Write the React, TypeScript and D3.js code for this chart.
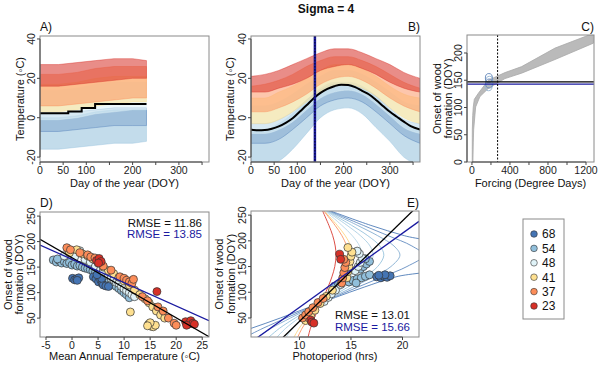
'use client';

import { useRef, useEffect } from 'react';
import * as d3 from 'd3';

// site groups (latitude) and their colours
const groupLabels = ['68', '54', '48', '41', '37', '23'];
const groupColors = ['#4575b4', '#91bfdb', '#e0f3f8', '#fee090', '#fc8d59', '#d73027'];
const bandOpacity = [0.28, 0.55, 0.6, 0.55, 0.5, 0.55];
const drawOrder = [1, 0, 2, 3, 4, 5];

const dayTicks = [0, 50, 100, 150, 200, 250, 300, 350];
const dayTickLabels = [0, 50, 100, 200, 300];
const tempTicks = [-20, 0, 20, 40];

// A) temperature envelopes of the daily series, per group
const daysA = [0, 40, 80, 120, 160, 200, 230];
const lowA = [
  [-7, -7, -6, -5, -4, -4, -4],
  [-16, -16, -15, -14, -13, -13, -12],
  [-1, -1, 0, 2, 3, 4, 4],
  [3, 3, 4, 6, 7, 8, 8],
  [6, 6, 7, 8, 9, 10, 10],
  [16, 16, 17, 18, 19, 20, 20],
];
const highA = [
  [2, 2, 3, 4, 5, 5, 5],
  [0, 0, 1, 3, 4, 4, 4],
  [14, 14, 15, 17, 18, 18, 18],
  [17, 17, 18, 20, 21, 21, 21],
  [22, 22, 23, 25, 26, 26, 26],
  [27, 27, 28, 29, 30, 30, 29],
];
const stepDaysA = [0, 61, 90, 119, 230];
const stepTempA = [2.2, 3.2, 4.9, 7.0, 7.0];

// B) seasonal temperature envelopes
const daysB = [0, 30, 60, 90, 120, 150, 180, 210, 240, 270, 300, 330, 365];
const lowB = [
  [-13, -13, -11, -6, 0, 6, 9, 10, 8, 3, -3, -9, -13],
  [-24, -24, -22, -16, -8, 0, 4, 5, 2, -5, -12, -20, -24],
  [-8, -8, -6, -2, 4, 10, 13, 14, 12, 7, 1, -5, -8],
  [-3, -3, -1, 3, 8, 13, 16, 17, 15, 11, 5, 0, -3],
  [3, 3, 5, 8, 12, 17, 20, 21, 19, 15, 10, 6, 3],
  [13, 13, 15, 17, 20, 24, 26, 27, 25, 22, 18, 15, 13],
];
const highB = [
  [-3, -3, -1, 3, 9, 14, 17, 17, 15, 11, 5, -1, -3],
  [-6, -6, -3, 2, 9, 15, 18, 18, 16, 11, 4, -3, -6],
  [6, 6, 8, 12, 17, 21, 24, 24, 22, 18, 13, 8, 6],
  [10, 10, 13, 16, 20, 24, 27, 27, 25, 21, 16, 12, 10],
  [16, 17, 19, 22, 26, 29, 31, 31, 29, 26, 22, 18, 15],
  [21, 22, 24, 27, 30, 33, 35, 35, 33, 30, 27, 23, 20],
];
const meanDaysB = [0, 15, 30, 45, 60, 75, 90, 105, 120, 135, 150, 165, 180, 195, 210, 225, 240, 255, 270, 285, 300, 315, 330, 345, 365];
const meanTempB = [-6.1, -6.4, -6.3, -5.6, -4.4, -2.6, -0.3, 3.0, 6.3, 9.8, 12.6, 14.6, 16.0, 16.8, 16.6, 15.5, 13.6, 11.8, 9.0, 6.0, 3.0, 0.5, -2.0, -4.3, -6.0];
const onsetDayB = 138;

// C) forcing vs onset, envelope of the simulated curves
const forcingLow = [10, 14, 18, 39, 84, 172, 347, 523, 874, 1277];
const doyLow = [0, 35, 59, 101, 120, 135, 153, 163, 188, 218];
const forcingHigh = [3, 4, 8, 14, 25, 67, 172, 347, 523, 874, 1277];
const doyHigh = [0, 59, 85, 101, 115, 126, 150, 164, 175, 209, 236];
const obsForcing = [175, 181, 184, 178];
const obsDoy = [139, 144, 149, 154];
const predDoyC = 147;
const obsDoyC = 143;
const forcingThreshold = 270;
const forcingTicks = [0, 200, 400, 600, 800, 1000, 1200];
const forcingTickLabels = [0, 400, 800, 1200];
const doyTicksC = [0, 50, 100, 150, 200];

// D) mean annual temperature vs onset
const pointsD = [
  [[0.1, 128], [0.5, 125], [0.9, 127], [1.3, 129], [1.0, 124], [4.1, 131], [4.6, 127], [5.1, 121], [5.5, 125], [5.8, 118], [6.0, 115], [6.5, 113], [7.0, 112], [5.7, 128], [4.8, 135]],
  [[-3.6, 164], [-3.0, 160], [-2.5, 163], [-2.0, 158], [-1.5, 161], [-1.0, 157], [-0.5, 159], [0.0, 154], [0.5, 156], [1.0, 152], [1.5, 153], [2.0, 150], [2.5, 148], [3.0, 147], [3.5, 145], [4.0, 142], [4.5, 140], [5.0, 136], [5.5, 133], [6.0, 130], [6.5, 125], [7.0, 122], [7.5, 118], [8.0, 115], [8.5, 112], [9.0, 108], [9.5, 104], [10.0, 100], [10.5, 96], [11.0, 90], [-2.8, 166]],
  [[-1.5, 172], [0.5, 170], [1.5, 182], [2.5, 165], [3.5, 160], [4.5, 152], [5.5, 146], [6.5, 138], [7.0, 133], [7.5, 128], [8.0, 125], [8.5, 120], [9.0, 118], [9.5, 112], [10.0, 108], [10.5, 104], [11.0, 100], [11.5, 96], [12.0, 92], [6.0, 142]],
  [[-0.5, 178], [0.9, 184], [2.0, 176], [3.0, 172], [4.0, 166], [5.0, 158], [6.0, 150], [7.0, 143], [8.0, 137], [9.0, 130], [10.0, 123], [11.0, 115], [12.0, 105], [13.0, 96], [14.0, 88], [14.8, 80], [15.5, 72], [16.2, 64], [17.0, 56], [17.8, 50], [11.2, 62], [14.7, 38], [15.2, 34], [15.6, 33], [16.0, 36], [15.0, 41], [14.5, 35]],
  [[-1.0, 188], [-0.3, 184], [1.5, 178], [3.0, 174], [3.6, 170], [4.4, 168], [5.0, 162], [6.0, 152], [7.5, 144], [9.2, 131], [10.0, 128], [10.5, 124], [11.0, 121], [11.5, 118], [11.8, 126], [13.5, 92], [14.5, 84], [16.5, 72], [17.5, 64], [18.5, 50], [19.6, 40], [20.0, 36]],
  [[4.7, 163], [5.2, 167], [5.6, 161], [5.1, 158], [16.3, 102], [21.8, 43], [22.3, 38], [22.8, 45], [23.2, 40], [22.0, 36], [23.5, 38]],
];
const fitD = { black: [168.3, -5.88], blue: [165.2, -4.57] };
const rmseD = ['11.86', '13.85'];
const matTicks = [-5, 0, 5, 10, 15, 20, 25];
const doyTicks = [50, 100, 150, 200, 250];

// E) photoperiod vs onset: day length (hrs) through the year at each site latitude
const photoDoy = [13, 30, 50, 70, 90, 110, 130, 150, 172, 190, 210, 230, 258];
const photoHours = [
  [2.70, 5.34, 8.15, 10.83, 13.50, 16.28, 19.37, 24, 24, 24, 20.18, 16.93, 13.03],
  [4.76, 6.47, 8.71, 11.00, 13.31, 15.66, 18.06, 20.43, 22.05, 20.91, 18.61, 16.20, 12.90],
  [5.96, 7.27, 9.14, 11.13, 13.15, 15.19, 17.17, 18.88, 19.75, 19.17, 17.59, 15.64, 12.79],
  [7.05, 8.07, 9.59, 11.27, 12.99, 14.70, 16.30, 17.59, 18.19, 17.80, 16.63, 15.07, 12.68],
  [7.84, 8.67, 9.95, 11.38, 12.86, 14.32, 15.65, 16.69, 17.15, 16.85, 15.92, 14.63, 12.60],
  [8.72, 9.36, 10.37, 11.51, 12.70, 13.87, 14.92, 15.71, 16.05, 15.83, 15.13, 14.12, 12.50],
  [9.48, 9.97, 10.74, 11.64, 12.57, 13.48, 14.28, 14.87, 15.13, 14.97, 14.44, 13.67, 12.41],
  [9.84, 10.26, 10.92, 11.69, 12.50, 13.29, 13.98, 14.49, 14.71, 14.57, 14.12, 13.46, 12.36],
  [10.84, 11.07, 11.44, 11.87, 12.33, 12.77, 13.15, 13.43, 13.55, 13.47, 13.23, 12.86, 12.25],
];
const photoColors = ['#4575b4', '#5a86bd', '#7ea9cf', '#91bfdb', '#a6cbe0', '#b5d6e6', '#fdd57e', '#fc8d59', '#d73027'];
const pointsE = [
  [[17.5, 130], [17.9, 128], [18.2, 131], [18.5, 129], [18.8, 132], [18.3, 134], [17.7, 133]],
  [[14.8, 120], [15.2, 123], [15.6, 126], [16.0, 128], [16.4, 131], [16.8, 134], [15.9, 145], [16.2, 150], [16.5, 155], [16.8, 160], [16.4, 165], [15.5, 118], [13.4, 112], [13.8, 116]],
  [[15.4, 142], [15.7, 150], [15.9, 158], [16.1, 166], [15.8, 175], [15.6, 180], [12.4, 82], [12.8, 90], [13.1, 97], [13.5, 104], [14.0, 115], [11.0, 52]],
  [[14.6, 128], [14.7, 140], [14.8, 150], [14.9, 160], [15.0, 170], [15.1, 178], [14.7, 187], [10.6, 45], [10.9, 50], [11.1, 53], [11.5, 65], [12.0, 78], [12.6, 92], [13.2, 104]],
  [[14.1, 118], [14.2, 128], [14.3, 138], [14.4, 148], [14.5, 158], [14.3, 164], [10.3, 50], [10.6, 56], [10.9, 62], [11.3, 70], [11.8, 80], [12.3, 88]],
  [[13.9, 174], [14.0, 164], [11.1, 46], [11.2, 42], [11.4, 40]],
];
const fitE = { black: [-152.3, 19.56], blue: [-73.6, 14.42] };
const rmseE = ['13.01', '15.66'];
const photoTicks = [10, 15, 20];

const BLUE = '#1a1aa0';
const FONT = '"Liberation Sans", Arial, sans-serif';

interface Box { x0: number; x1: number; y0: number; y1: number }
type Scale = d3.ScaleLinear<number, number>;
type Sel = d3.Selection<SVGSVGElement, unknown, null, undefined>;
type G = d3.Selection<SVGGElement, unknown, null, undefined>;

function plotArea(svg: Sel, id: string, b: Box) {
  svg.append('clipPath').attr('id', id).append('rect')
    .attr('x', b.x0).attr('y', b.y0).attr('width', b.x1 - b.x0).attr('height', b.y1 - b.y0);
  return svg.append('g').attr('clip-path', `url(#${id})`);
}

function frame(svg: Sel, b: Box, x: Scale, y: Scale, xt: number[], xl: number[], yt: number[], yl: number[]) {
  svg.append('rect')
    .attr('x', b.x0).attr('y', b.y0).attr('width', b.x1 - b.x0).attr('height', b.y1 - b.y0)
    .attr('fill', 'none').attr('stroke', '#8a8a8a');
  const g = svg.append('g').attr('stroke', '#444').attr('fill', 'none');
  g.append('line').attr('x1', x(xt[0])).attr('x2', x(xt[xt.length - 1])).attr('y1', b.y1).attr('y2', b.y1);
  xt.forEach(t => g.append('line').attr('x1', x(t)).attr('x2', x(t)).attr('y1', b.y1).attr('y2', b.y1 + 3));
  xl.forEach(t => svg.append('text')
    .attr('x', x(t)).attr('y', b.y1 + 12).attr('text-anchor', 'middle')
    .attr('font-size', 10.5).attr('fill', '#222').text(t));
  g.append('line').attr('y1', y(yt[0])).attr('y2', y(yt[yt.length - 1])).attr('x1', b.x0).attr('x2', b.x0);
  yt.forEach(t => g.append('line').attr('y1', y(t)).attr('y2', y(t)).attr('x1', b.x0).attr('x2', b.x0 - 3));
  yl.forEach(t => svg.append('text')
    .attr('transform', `translate(${b.x0 - 5},${y(t)}) rotate(-90)`)
    .attr('text-anchor', 'middle').attr('font-size', 10.5).attr('fill', '#222').text(t));
}

function label(svg: Sel, x: number, y: number, text: string, opts: { anchor?: string; size?: number; rotate?: boolean; fill?: string; weight?: string } = {}) {
  svg.append('text')
    .attr('transform', opts.rotate ? `translate(${x},${y}) rotate(-90)` : `translate(${x},${y})`)
    .attr('text-anchor', opts.anchor ?? 'middle')
    .attr('font-size', opts.size ?? 11)
    .attr('font-weight', opts.weight ?? 'normal')
    .attr('fill', opts.fill ?? '#111')
    .text(text);
}

function bands(g: G, days: number[], low: number[][], high: number[][], x: Scale, y: Scale, curve: d3.CurveFactory) {
  drawOrder.forEach(k => {
    const area = d3.area<number>()
      .x(d => x(d))
      .y0((_, i) => y(low[k][i]))
      .y1((_, i) => y(high[k][i]))
      .curve(curve);
    g.append('path').datum(days).attr('d', area)
      .attr('fill', groupColors[k]).attr('fill-opacity', bandOpacity[k])
      .attr('stroke', groupColors[k]).attr('stroke-opacity', 0.5).attr('stroke-width', 0.8);
  });
}

function points(g: G, pts: number[][][], x: Scale, y: Scale) {
  drawOrder.forEach(k => {
    pts[k].forEach(p => g.append('circle')
      .attr('cx', x(p[0])).attr('cy', y(p[1])).attr('r', 4)
      .attr('fill', groupColors[k]).attr('stroke', '#333').attr('stroke-width', 0.7));
  });
}

export default function App() {
  const svgRef = useRef<SVGSVGElement>(null);

  useEffect(() => {
    if (!svgRef.current) return;
    const svg = d3.select(svgRef.current);
    svg.selectAll('*').remove();
    svg.attr('font-family', FONT);

    const boxA = { x0: 40, x1: 209, y0: 36, y1: 162 };
    const boxB = { x0: 251, x1: 420, y0: 36, y1: 162 };
    const boxC = { x0: 467, x1: 594, y0: 35, y1: 162 };
    const boxD = { x0: 40, x1: 209, y0: 212, y1: 337 };
    const boxE = { x0: 251, x1: 419, y0: 211, y1: 337 };

    label(svg, 326, 13, 'Sigma = 4', { size: 12, weight: 'bold' });

    // ---- A
    const xA = d3.scaleLinear().domain([0, 365]).range([boxA.x0, boxA.x1]);
    const yA = d3.scaleLinear().domain([-22.5, 41.5]).range([boxA.y1, boxA.y0]);
    const gA = plotArea(svg, 'clipA', boxA);
    bands(gA, daysA, lowA, highA, xA, yA, d3.curveLinear);
    gA.append('path')
      .datum(stepDaysA)
      .attr('d', d3.line<number>().x(d => xA(d)).y((_, i) => yA(stepTempA[i])).curve(d3.curveStepAfter))
      .attr('fill', 'none').attr('stroke', '#000').attr('stroke-width', 2);
    frame(svg, boxA, xA, yA, dayTicks, dayTickLabels, tempTicks, tempTicks);
    label(svg, boxA.x0, boxA.y0 - 5, 'A)', { anchor: 'start', size: 12 });
    label(svg, (boxA.x0 + boxA.x1) / 2, 187, 'Day of the year (DOY)');
    label(svg, boxA.x0 - 16, (boxA.y0 + boxA.y1) / 2, 'Temperature (\u25E6C)', { rotate: true });

    // ---- B
    const xB = d3.scaleLinear().domain([0, 365]).range([boxB.x0, boxB.x1]);
    const yB = d3.scaleLinear().domain([-22.5, 41.5]).range([boxB.y1, boxB.y0]);
    const gB = plotArea(svg, 'clipB', boxB);
    bands(gB, daysB, lowB, highB, xB, yB, d3.curveMonotoneX);
    gB.append('path')
      .datum(meanDaysB)
      .attr('d', d3.line<number>().x(d => xB(d)).y((_, i) => yB(meanTempB[i])).curve(d3.curveMonotoneX))
      .attr('fill', 'none').attr('stroke', '#000').attr('stroke-width', 2);
    gB.append('line')
      .attr('x1', xB(onsetDayB)).attr('x2', xB(onsetDayB)).attr('y1', boxB.y0).attr('y2', boxB.y1)
      .attr('stroke', BLUE).attr('stroke-width', 2.5);
    gB.append('line')
      .attr('x1', xB(onsetDayB)).attr('x2', xB(onsetDayB)).attr('y1', boxB.y0).attr('y2', boxB.y1)
      .attr('stroke', '#000').attr('stroke-width', 0.8).attr('stroke-dasharray', '1.5,1.5');
    frame(svg, boxB, xB, yB, dayTicks, dayTickLabels, tempTicks, tempTicks);
    label(svg, boxB.x1, boxB.y0 - 5, 'B)', { anchor: 'end', size: 12 });
    label(svg, (boxB.x0 + boxB.x1) / 2, 187, 'Day of the year (DOY)');
    label(svg, boxB.x0 - 17, (boxB.y0 + boxB.y1) / 2, 'Temperature (\u25E6C)', { rotate: true });

    // ---- C
    const xC = d3.scaleLinear().domain([-52, 1284]).range([boxC.x0, boxC.x1]);
    const yC = d3.scaleLinear().domain([0, 233]).range([boxC.y1, boxC.y0]);
    const gC = plotArea(svg, 'clipC', boxC);
    const env: [number, number][] = [
      ...forcingLow.map((f, i) => [f, doyLow[i]] as [number, number]),
      ...forcingHigh.map((f, i) => [f, doyHigh[i]] as [number, number]).reverse(),
    ];
    const envLine = d3.line<[number, number]>().x(d => xC(d[0])).y(d => yC(d[1]));
    gC.append('path')
      .datum(env)
      .attr('d', d => `${envLine(d)}Z`)
      .attr('fill', '#bababa').attr('stroke', '#a9a9a9').attr('stroke-width', 0.8)
      .attr('stroke-linejoin', 'round');
    obsForcing.forEach((f, i) => gC.append('ellipse')
      .attr('cx', xC(f)).attr('cy', yC(obsDoy[i])).attr('rx', 3.5).attr('ry', 4.5)
      .attr('fill', 'none').attr('stroke', i % 2 ? '#6d8fbf' : '#9dbad6').attr('stroke-width', 1));
    gC.append('line')
      .attr('x1', boxC.x0).attr('x2', boxC.x1).attr('y1', yC(predDoyC)).attr('y2', yC(predDoyC))
      .attr('stroke', '#000').attr('stroke-width', 1.3);
    gC.append('line')
      .attr('x1', boxC.x0).attr('x2', boxC.x1).attr('y1', yC(obsDoyC)).attr('y2', yC(obsDoyC))
      .attr('stroke', BLUE).attr('stroke-width', 1.3);
    gC.append('line')
      .attr('x1', xC(forcingThreshold)).attr('x2', xC(forcingThreshold)).attr('y1', boxC.y0).attr('y2', boxC.y1)
      .attr('stroke', '#000').attr('stroke-width', 1).attr('stroke-dasharray', '2,1.5');
    frame(svg, boxC, xC, yC, forcingTicks, forcingTickLabels, doyTicksC, doyTicksC);
    label(svg, boxC.x1, boxC.y0 - 4, 'C)', { anchor: 'end', size: 12 });
    label(svg, (boxC.x0 + boxC.x1) / 2, 187, 'Forcing (Degree Days)');
    label(svg, boxC.x0 - 26, (boxC.y0 + boxC.y1) / 2, 'Onset of wood', { rotate: true });
    label(svg, boxC.x0 - 15, (boxC.y0 + boxC.y1) / 2, 'formation (DOY)', { rotate: true });

    // ---- D
    const xD = d3.scaleLinear().domain([-6.15, 26.3]).range([boxD.x0, boxD.x1]);
    const yD = d3.scaleLinear().domain([13, 258]).range([boxD.y1, boxD.y0]);
    const gD = plotArea(svg, 'clipD', boxD);
    points(gD, pointsD, xD, yD);
    ([['black', '#000'], ['blue', BLUE]] as const).forEach(([k, c]) => {
      const [a, s] = fitD[k];
      gD.append('line')
        .attr('x1', xD(-6.15)).attr('y1', yD(a + s * -6.15))
        .attr('x2', xD(26.3)).attr('y2', yD(a + s * 26.3))
        .attr('stroke', c).attr('stroke-width', 1.3);
    });
    frame(svg, boxD, xD, yD, matTicks, matTicks, doyTicks, doyTicks);
    label(svg, boxD.x1 - 7, boxD.y0 + 14.5, `RMSE = ${rmseD[0]}`, { anchor: 'end', size: 11.5 });
    label(svg, boxD.x1 - 7, boxD.y0 + 25.5, `RMSE = ${rmseD[1]}`, { anchor: 'end', size: 11.5, fill: BLUE });
    label(svg, boxD.x0, boxD.y0 - 5, 'D)', { anchor: 'start', size: 12 });
    label(svg, (boxD.x0 + boxD.x1) / 2, 360, 'Mean Annual Temperature (\u25E6C)');
    label(svg, boxD.x0 - 28, (boxD.y0 + boxD.y1) / 2, 'Onset of wood', { rotate: true });
    label(svg, boxD.x0 - 17, (boxD.y0 + boxD.y1) / 2, 'formation (DOY)', { rotate: true });

    // ---- E
    const xE = d3.scaleLinear().domain([5.3, 21.6]).range([boxE.x0, boxE.x1]);
    const yE = d3.scaleLinear().domain([13, 258]).range([boxE.y1, boxE.y0]);
    const gE = plotArea(svg, 'clipE', boxE);
    photoHours.forEach((hrs, k) => {
      gE.append('path')
        .datum(photoDoy)
        .attr('d', d3.line<number>().x((_, i) => xE(hrs[i])).y(d => yE(d)).curve(d3.curveCatmullRom.alpha(0.5)))
        .attr('fill', 'none').attr('stroke', photoColors[k]).attr('stroke-width', 1).attr('stroke-opacity', 0.85);
    });
    points(gE, pointsE, xE, yE);
    ([['black', '#000'], ['blue', BLUE]] as const).forEach(([k, c]) => {
      const [a, s] = fitE[k];
      gE.append('line')
        .attr('x1', xE(5.3)).attr('y1', yE(a + s * 5.3))
        .attr('x2', xE(21.6)).attr('y2', yE(a + s * 21.6))
        .attr('stroke', c).attr('stroke-width', 1.3);
    });
    frame(svg, boxE, xE, yE, photoTicks, photoTicks, doyTicks, doyTicks);
    label(svg, boxE.x1 - 9, boxE.y1 - 18, `RMSE = ${rmseE[0]}`, { anchor: 'end', size: 11.5 });
    label(svg, boxE.x1 - 9, boxE.y1 - 6, `RMSE = ${rmseE[1]}`, { anchor: 'end', size: 11.5, fill: BLUE });
    label(svg, boxE.x1, boxE.y0 - 4, 'E)', { anchor: 'end', size: 12 });
    label(svg, (boxE.x0 + boxE.x1) / 2, 360, 'Photoperiod (hrs)');
    label(svg, boxE.x0 - 28, (boxE.y0 + boxE.y1) / 2, 'Onset of wood', { rotate: true });
    label(svg, boxE.x0 - 16, (boxE.y0 + boxE.y1) / 2, 'formation (DOY)', { rotate: true });

    // ---- legend
    const leg = svg.append('g');
    leg.append('rect').attr('x', 523).attr('y', 219).attr('width', 41).attr('height', 100)
      .attr('fill', '#fff').attr('stroke', '#8a8a8a');
    groupLabels.forEach((lab, i) => {
      const yy = 234 + i * 14.4;
      leg.append('circle').attr('cx', 534).attr('cy', yy).attr('r', 3.3)
        .attr('fill', groupColors[i]).attr('stroke', '#333').attr('stroke-width', 0.6);
      leg.append('text').attr('x', 542).attr('y', yy + 4.3).attr('font-size', 12).attr('fill', '#111').text(lab);
    });
  }, []);

  return (
    <svg
      ref={svgRef}
      width={600}
      height={367}
      style={{ position: 'absolute', left: 0, top: 0, background: '#fff' }}
    />
  );
}
